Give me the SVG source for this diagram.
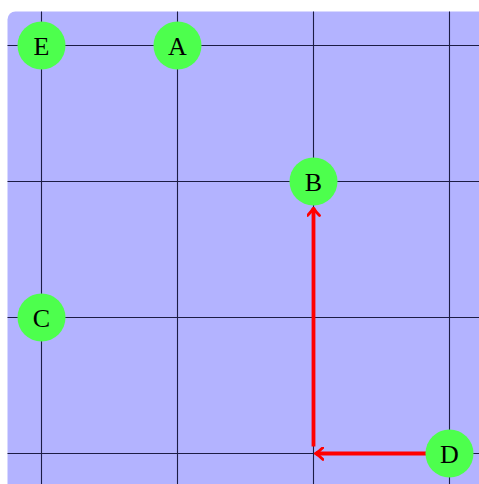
<svg xmlns="http://www.w3.org/2000/svg" width="479" height="484" viewBox="0 0 479 484">
<style>
.grid{stroke:#1c1c44;stroke-width:1.1;fill:none}
.node circle{fill:#4dff4d}
.node text{font-family:"Liberation Serif",serif;font-size:26px;fill:#000;text-anchor:middle}
.edge{stroke:#ff0000;stroke-width:3.8;fill:none}
</style>
<defs>
<marker id="ah" viewBox="0 0 10 14" refX="8" refY="7" markerWidth="10" markerHeight="14" markerUnits="userSpaceOnUse" orient="auto">
<path d="M1,1 Q5,5 8.5,7 Q5,9 1,13" fill="none" stroke="#ff0000" stroke-width="2.8" stroke-linecap="round"/>
</marker>
</defs>
<rect x="7.5" y="11.5" width="480" height="490" rx="8" fill="#b3b3ff"/>
<g id="grid" class="grid">
<line x1="41.5" y1="11.5" x2="41.5" y2="484"/>
<line x1="177.5" y1="11.5" x2="177.5" y2="484"/>
<line x1="313.5" y1="11.5" x2="313.5" y2="484"/>
<line x1="449.5" y1="11.5" x2="449.5" y2="484"/>
<line x1="7.5" y1="45.5" x2="479" y2="45.5"/>
<line x1="7.5" y1="181.5" x2="479" y2="181.5"/>
<line x1="7.5" y1="317.5" x2="479" y2="317.5"/>
<line x1="7.5" y1="453.5" x2="479" y2="453.5"/>
</g>
<g id="connectors">
<path class="edge" d="M426,453.5 H316" marker-end="url(#ah)"/>
<path class="edge" d="M313.5,446.5 V208.5" marker-end="url(#ah)"/>
</g>
<g id="E" class="node"><circle cx="41.5" cy="45.5" r="24"/><text x="41.5" y="54.5">E</text></g>
<g id="A" class="node"><circle cx="177.5" cy="45.5" r="24"/><text x="177.5" y="54.5">A</text></g>
<g id="B" class="node"><circle cx="313.5" cy="181.5" r="24"/><text x="313.5" y="190.5">B</text></g>
<g id="C" class="node"><circle cx="41.5" cy="317.5" r="24"/><text x="41.5" y="326.5">C</text></g>
<g id="D" class="node"><circle cx="449.5" cy="453.5" r="24"/><text x="449.5" y="462.5">D</text></g>
</svg>
